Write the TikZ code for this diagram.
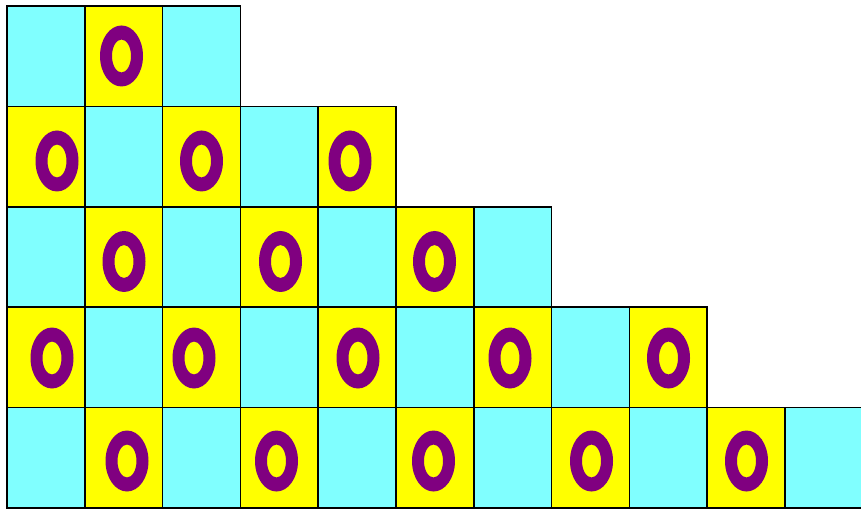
\documentclass[tikz,border=0pt]{standalone}
\definecolor{cellcyan}{HTML}{80FFFF}
\definecolor{cellyellow}{HTML}{FFFF00}
\definecolor{ringpurple}{HTML}{800080}
\tikzset{
  cellbox/.style={draw=black, line width=1.6pt},
  ring/.style={fill=ringpurple, even odd rule},
}
\begin{document}
\begin{tikzpicture}[x=1pt,y=-1pt]
\useasboundingbox (0,0) rectangle (861,510);
\clip (0,0) rectangle (861,510);
\def\cellw{77.8}
\def\cellh{100.4}
% cells
\foreach \r in {0,...,4}{
  \pgfmathtruncatemacro{\lastc}{2*\r+2}
  \foreach \c in {0,...,\lastc}{
    \pgfmathtruncatemacro{\parity}{mod(\r+\c,2)}
    \pgfmathsetmacro{\xa}{7+\c*\cellw}
    \pgfmathsetmacro{\ya}{6+\r*\cellh}
    \ifnum\parity=0
      \fill[cellcyan] (\xa,\ya) rectangle ++(\cellw,\cellh);
    \else
      \fill[cellyellow] (\xa,\ya) rectangle ++(\cellw,\cellh);
    \fi
  }
}
% rings
\foreach \xc/\yc in {121.5/56,
    57/161, 201.5/161, 350/161,
    124/261.5, 280.5/261.5, 434.5/261.5,
    52/358, 194/358, 358/358, 510/358, 668.5/358,
    127/461, 276.5/461, 433.5/461, 591.5/461, 746.5/461}{
  \fill[ring] (\xc,\yc) ellipse [x radius=21.5, y radius=30.5]
              (\xc,\yc) ellipse [x radius=9.5, y radius=16.5];
}
% borders
\foreach \r in {0,...,4}{
  \pgfmathtruncatemacro{\lastc}{2*\r+2}
  \foreach \c in {0,...,\lastc}{
    \pgfmathsetmacro{\xa}{7+\c*\cellw}
    \pgfmathsetmacro{\ya}{6+\r*\cellh}
    \draw[cellbox] (\xa,\ya) rectangle ++(\cellw,\cellh);
  }
}
\end{tikzpicture}
\end{document}
